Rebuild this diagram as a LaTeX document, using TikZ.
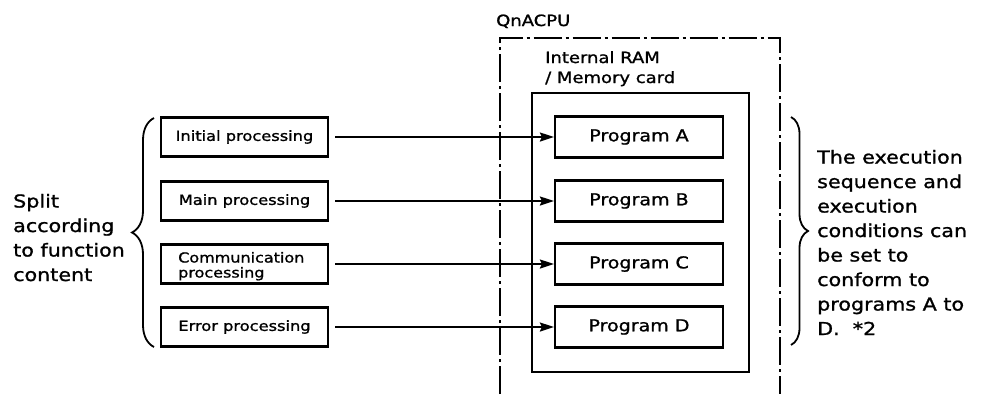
\documentclass[tikz,border=0pt]{standalone}
\usepackage{fontspec}
\usetikzlibrary{arrows.meta,decorations.pathreplacing}
\newfontfamily\plotfont[FakeStretch=1.16, FakeBold=1.2]{DejaVu Sans}
\tikzset{
  procbox/.style={draw, line width=2.2pt, minimum width=167pt, minimum height=39pt,
    inner sep=0pt, font=\plotfont\fontsize{14}{15}\selectfont},
  progbox/.style={draw, line width=2.2pt, minimum width=168pt, minimum height=41pt,
    inner sep=0pt, font=\plotfont\fontsize{16.4}{18}\selectfont},
  membox/.style={draw, line width=2.2pt, minimum width=217pt, minimum height=279pt,
    inner sep=0pt, anchor=north west},
  flow/.style={line width=2pt, -{Stealth[length=14pt,width=9pt,inset=2pt]}},
  dashdot/.style={line width=2pt, dash pattern=on 28pt off 4pt on 3pt off 4pt},
  lbrace/.style={line width=1.8pt, decorate, decoration={brace, amplitude=22pt}},
  rbrace/.style={line width=1.8pt, decorate, decoration={brace, amplitude=17pt}},
  label/.style={inner sep=0pt, font=\plotfont\fontsize{15.5}{20}\selectfont},
  note/.style={inner sep=0pt, align=left, font=\plotfont\fontsize{17.8}{24.5}\selectfont},
}
\begin{document}
\begin{tikzpicture}[x=1pt, y=-1pt]
  \useasboundingbox (0,0) rectangle (981,394);

  % CPU outline (open at the bottom)
  \coordinate (cpuBL) at (500,394);
  \coordinate (cpuTL) at (500,37.5);
  \coordinate (cpuTR) at (780,37.5);
  \coordinate (cpuBR) at (780,394);
  \draw[dashdot] (cpuBL) -- (cpuTL) -- (cpuTR) -- (cpuBR);
  \node[label, anchor=base west] (cpu) at (496,26) {QnACPU};

  % memory area
  \node[membox] (mem) at (531,92) {};
  \node[label, anchor=base west] (ram) at (545,63) {Internal RAM};
  \node[label, anchor=base west] (card) at (545,83) {/ Memory card};

  % processing blocks
  \node[procbox] (init) at (244.5,137) {Initial processing};
  \node[procbox] (main) at (244.5,201) {Main processing};
  \node[procbox] (comm) at (244.5,264) {};
  \node[inner sep=0pt, align=left, anchor=base west,
        font=\plotfont\fontsize{13.8}{15}\selectfont] (commtext) at (178,277.5)
        {Communication\\processing};
  \node[procbox] (err) at (244.5,327) {Error processing};

  % programs
  \node[progbox] (pa) at (639,137) {Program A};
  \node[progbox] (pb) at (639,201) {Program B};
  \node[progbox] (pc) at (639,264) {Program C};
  \node[progbox] (pd) at (639,327) {Program D};

  % connectors
  \foreach \s/\t in {init/pa, main/pb, comm/pc, err/pd}
    \draw[flow] ([xshift=6pt]\s.east) -- (\t.west);

  % braces
  \coordinate (lbB) at (154,347);
  \coordinate (lbT) at (154,118);
  \draw[lbrace] (lbB) -- (lbT);
  \coordinate (rbT) at (791,117);
  \coordinate (rbB) at (791,345);
  \draw[rbrace] (rbT) -- (rbB);

  % side notes (anchored on the baseline of the last line)
  \node[note, anchor=base west] (split) at (13,281)
    {Split\\according\\to function\\content};
  \node[note, anchor=base west] (cond) at (817,335)
    {The execution\\sequence and\\execution\\conditions can\\be set to\\conform to\\programs A to\\D.\ \ *2};
\end{tikzpicture}
\end{document}
